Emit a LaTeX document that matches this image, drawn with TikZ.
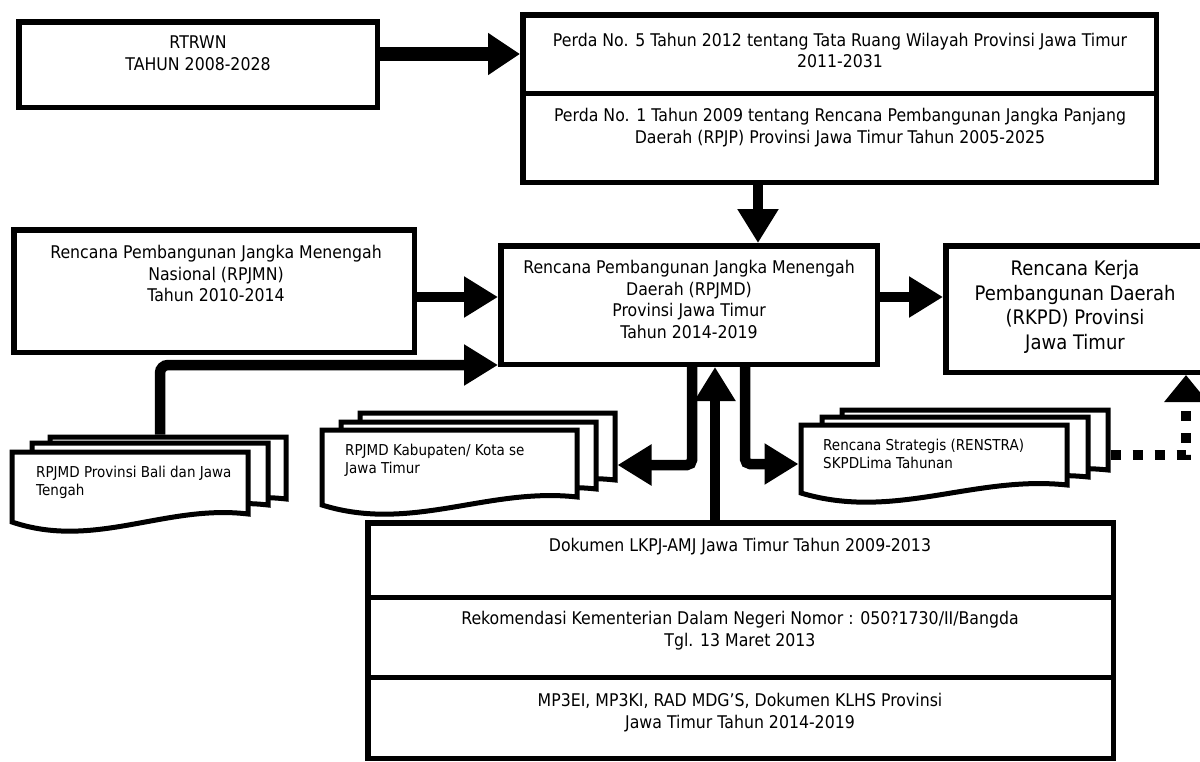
\documentclass[tikz,border=0pt]{standalone}
\usepackage{fontspec}
\setmainfont{DejaVu Sans}[FakeStretch=0.9]
\usetikzlibrary{arrows.meta}
\tikzset{
  box/.style={draw, line width=5.5pt, fill=white, inner sep=0pt},
  maintxt/.style={inner sep=0pt, align=center, anchor=north, font=\fontsize{17.5}{21.5}\selectfont},
  bigtxt/.style={inner sep=0pt, align=center, anchor=north, font=\fontsize{20}{24.7}\selectfont},
  doctxt/.style={inner sep=0pt, align=left, anchor=north west, font=\fontsize{15}{18}\selectfont},
  bigarrow/.style={line width=10.5pt, -{Triangle[width=39pt,length=34pt]}},
  dotarrow/.style={line width=10pt, dash pattern=on 10pt off 12pt, -{Triangle[width=42pt,length=27pt]}},
  docline/.style={line width=5pt, fill=white, line join=miter},
  pics/docpage/.style 2 args={code={
    \draw[docline] (0,#2) -- (0,0) -- (#1,0) -- (#1,#2-8)
      .. controls (0.65*#1,#2-18) and (0.35*#1,#2+28) .. (0,#2) -- cycle;
  }}
}
\begin{document}
\begin{tikzpicture}[x=1pt,y=-1pt]
\fill[white] (0,0) rectangle (1200,761);
\useasboundingbox (0,0) rectangle (1200,761);

% boxes
\node[box, minimum width=358.5pt, minimum height=85.5pt] (rtrwn) at (198,64.5) {};
\node[box, minimum width=633.5pt, minimum height=78.5pt] (perda5) at (839.5,54) {};
\node[box, minimum width=633.5pt, minimum height=89pt] (perda1) at (839.5,137.75) {};
\node[box, minimum width=400.5pt, minimum height=122.5pt] (rpjmn) at (214,291) {};
\node[box, minimum width=376.5pt, minimum height=118.5pt] (rpjmd) at (689,305) {};
\node[box, minimum width=261.5pt, minimum height=126.5pt] (rkpd) at (1076.5,309) {};
\node[box, minimum width=745.5pt, minimum height=74.5pt] (lkpj) at (740.5,560) {};
\node[box, minimum width=745.5pt, minimum height=80pt] (rek) at (740.5,637.25) {};
\node[box, minimum width=745.5pt, minimum height=81pt] (mp) at (740.5,717.75) {};

% texts of boxes
\node[maintxt] (trtrwn) at (198,36) {RTRWN\\TAHUN 2008-2028};
\node[maintxt] (tperda5) at (840,33) {Perda No. 5 Tahun 2012 tentang Tata Ruang Wilayah Provinsi Jawa Timur\\2011-2031};
\node[maintxt] (tperda1) at (840,108) {Perda No. 1 Tahun 2009 tentang Rencana Pembangunan Jangka Panjang\\Daerah (RPJP) Provinsi Jawa Timur Tahun 2005-2025};
\node[maintxt] (trpjmn) at (216,245) {Rencana Pembangunan Jangka Menengah\\Nasional (RPJMN)\\Tahun 2010-2014};
\node[maintxt] (trpjmd) at (689,260) {Rencana Pembangunan Jangka Menengah\\Daerah (RPJMD)\\Provinsi Jawa Timur\\Tahun 2014-2019};
\node[bigtxt] (trkpd) at (1075,260) {Rencana Kerja\\Pembangunan Daerah\\(RKPD) Provinsi\\Jawa Timur};
\node[maintxt] (tlkpj) at (740,538) {Dokumen LKPJ-AMJ Jawa Timur Tahun 2009-2013};
\node[maintxt] (trek) at (740,611) {Rekomendasi Kementerian Dalam Negeri Nomor : 050?1730/II/Bangda\\Tgl. 13 Maret 2013};
\node[maintxt] (tmp) at (740,693) {MP3EI, MP3KI, RAD MDG’S, Dokumen KLHS Provinsi\\Jawa Timur Tahun 2014-2019};

% document stacks
\pic at (50,437) {docpage={236}{70}};
\pic at (32,443) {docpage={236}{70}};
\pic at (12,452) {docpage={236}{70}};
\node[doctxt] (tbali) at (36,466) {RPJMD Provinsi Bali dan Jawa\\Tengah};

\pic at (360,413) {docpage={255}{75}};
\pic at (341,422) {docpage={255}{75}};
\pic at (322,430) {docpage={255}{75}};
\node[doctxt] (tkab) at (345,444) {RPJMD Kabupaten/ Kota se\\Jawa Timur};

\pic at (842,410) {docpage={266}{68}};
\pic at (822,417) {docpage={266}{68}};
\pic at (801,425) {docpage={266}{68}};
\node[doctxt] (tren) at (823,439) {Rencana Strategis (RENSTRA)\\SKPDLima Tahunan};

% helper coordinates
\coordinate (x758) at (758,0);
\coordinate (y297) at (0,297);
\coordinate (y365) at (0,365);
\coordinate (x692) at (692,0);
\coordinate (x745) at (745,0);
\coordinate (x715) at (715,0);
\coordinate (x1186) at (1186,0);
\coordinate (baliTop) at (160,434.5);
\coordinate (kabR) at (617.5,465);
\coordinate (renL) at (798.5,464);
\coordinate (renR) at (1110.5,455);
\coordinate (dotC) at (1186,455);

% connectors
\draw[bigarrow, line width=14pt, -{Triangle[width=40pt,length=32pt]}] (rtrwn.east |- perda5.west) -- (perda5.west);
\draw[bigarrow] (perda1.south -| x758) -- (rpjmd.north -| x758);
\draw[bigarrow] (rpjmn.east |- y297) -- (rpjmd.west |- y297);
\draw[bigarrow] (rpjmd.east |- y297) -- (rkpd.west |- y297);
\draw[bigarrow, rounded corners=8pt] (baliTop) |- (rpjmd.west |- y365);
\draw[bigarrow, rounded corners=5pt] (rpjmd.south -| x692) |- (kabR);
\draw[bigarrow, rounded corners=5pt] (rpjmd.south -| x745) |- (renL);
\draw[bigarrow] (lkpj.north -| x715) -- (rpjmd.south -| x715);
\draw[dotarrow] (renR) -- (dotC) -- (rkpd.south -| x1186);
\end{tikzpicture}
\end{document}
